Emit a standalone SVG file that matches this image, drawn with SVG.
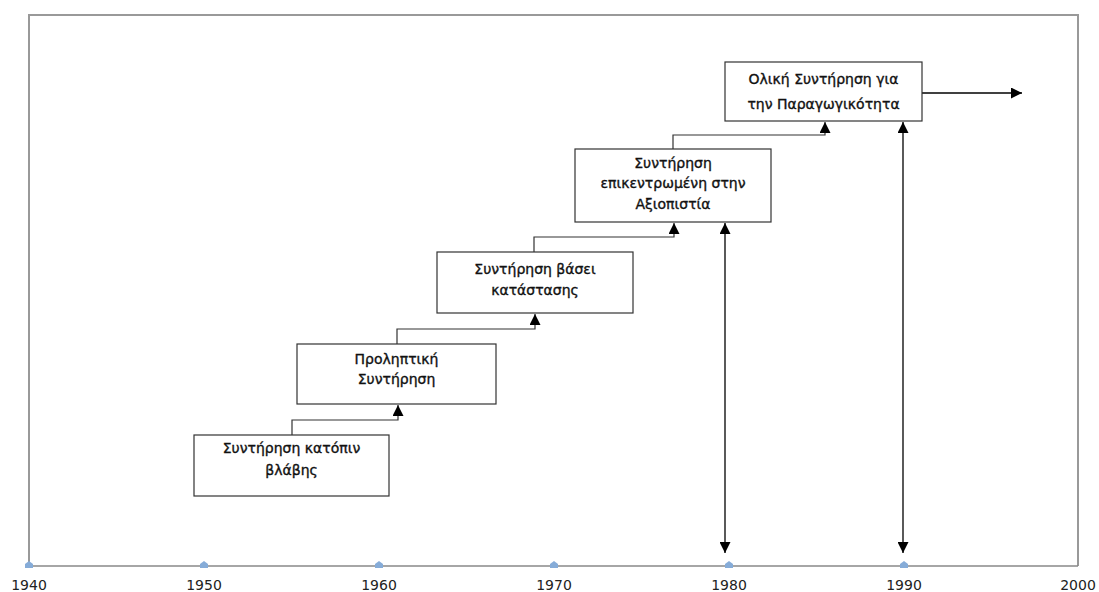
<svg xmlns="http://www.w3.org/2000/svg" width="1099" height="592" viewBox="0 0 1099 592">
<defs>
<marker id="ah" viewBox="0 0 10 10" refX="10" refY="5" markerWidth="11" markerHeight="11" markerUnits="userSpaceOnUse" orient="auto-start-reverse">
<path d="M0,0 L10,5 L0,10 Z" fill="#000"/>
</marker>
<style>
.box{fill:#fff;stroke:#333;stroke-width:1.2}
.lbl{font-family:"DejaVu Sans",Verdana,sans-serif;font-size:14px;fill:#111;stroke:#111;stroke-width:0.35;text-anchor:middle}
.yr{font-family:"DejaVu Sans",Verdana,sans-serif;font-size:14px;fill:#222;text-anchor:middle}
.con{fill:none;stroke:#333;stroke-width:1.2}
.arr{fill:none;stroke:#000;stroke-width:1.3}
.tick{fill:#86acd8}
</style>
</defs>
<rect width="1099" height="592" fill="#fff"/>
<g id="frame">
<polyline points="29,566 29,15 1078,15 1078,566" fill="none" stroke="#999" stroke-width="2"/>
<line x1="29" y1="566" x2="1078" y2="566" stroke="#888" stroke-width="1.5"/>
</g>
<g id="axis">
<path class="tick" d="M25,568 L25,564 L29,561 L33,564 L33,568 Z"/>
<path class="tick" d="M200,568 L200,564 L204,561 L208,564 L208,568 Z"/>
<path class="tick" d="M375,568 L375,564 L379,561 L383,564 L383,568 Z"/>
<path class="tick" d="M550,568 L550,564 L554,561 L558,564 L558,568 Z"/>
<path class="tick" d="M725,568 L725,564 L729,561 L733,564 L733,568 Z"/>
<path class="tick" d="M900,568 L900,564 L904,561 L908,564 L908,568 Z"/>
<text class="yr" x="29" y="590">1940</text>
<text class="yr" x="204" y="590">1950</text>
<text class="yr" x="379" y="590">1960</text>
<text class="yr" x="554" y="590">1970</text>
<text class="yr" x="729" y="590">1980</text>
<text class="yr" x="904" y="590">1990</text>
<text class="yr" x="1078" y="590">2000</text>
</g>
<g id="connectors">
<polyline class="con" points="292,435 292,420 398,420 398,405" marker-end="url(#ah)"/>
<polyline class="con" points="397,344 397,329 535,329 535,314" marker-end="url(#ah)"/>
<polyline class="con" points="534,252 534,237 674,237 674,223" marker-end="url(#ah)"/>
<polyline class="con" points="673,149 673,135 825,135 825,122" marker-end="url(#ah)"/>
<line class="arr" x1="922" y1="93" x2="1022" y2="93" marker-end="url(#ah)"/>
<line class="arr" x1="725" y1="223" x2="725" y2="553" marker-start="url(#ah)" marker-end="url(#ah)"/>
<line class="arr" x1="903" y1="122" x2="903" y2="553" marker-start="url(#ah)" marker-end="url(#ah)"/>
</g>
<g id="n1">
<rect class="box" x="194" y="435" width="195" height="61"/>
<text class="lbl" x="291.5" y="453">Συντήρηση κατόπιν</text>
<text class="lbl" x="291.5" y="475">βλάβης</text>
</g>
<g id="n2">
<rect class="box" x="297" y="344" width="199" height="60"/>
<text class="lbl" x="396.5" y="364">Προληπτική</text>
<text class="lbl" x="396.5" y="384">Συντήρηση</text>
</g>
<g id="n3">
<rect class="box" x="437" y="252" width="196" height="61"/>
<text class="lbl" x="535" y="274">Συντήρηση βάσει</text>
<text class="lbl" x="535" y="295">κατάστασης</text>
</g>
<g id="n4">
<rect class="box" x="575" y="149" width="196" height="73"/>
<text class="lbl" x="673" y="168">Συντήρηση</text>
<text class="lbl" x="673" y="188">επικεντρωμένη στην</text>
<text class="lbl" x="673" y="209">Αξιοπιστία</text>
</g>
<g id="n5">
<rect class="box" x="725" y="62" width="197" height="59"/>
<text class="lbl" x="823.5" y="84">Ολική Συντήρηση για</text>
<text class="lbl" x="823.5" y="109">την Παραγωγικότητα</text>
</g>
</svg>
